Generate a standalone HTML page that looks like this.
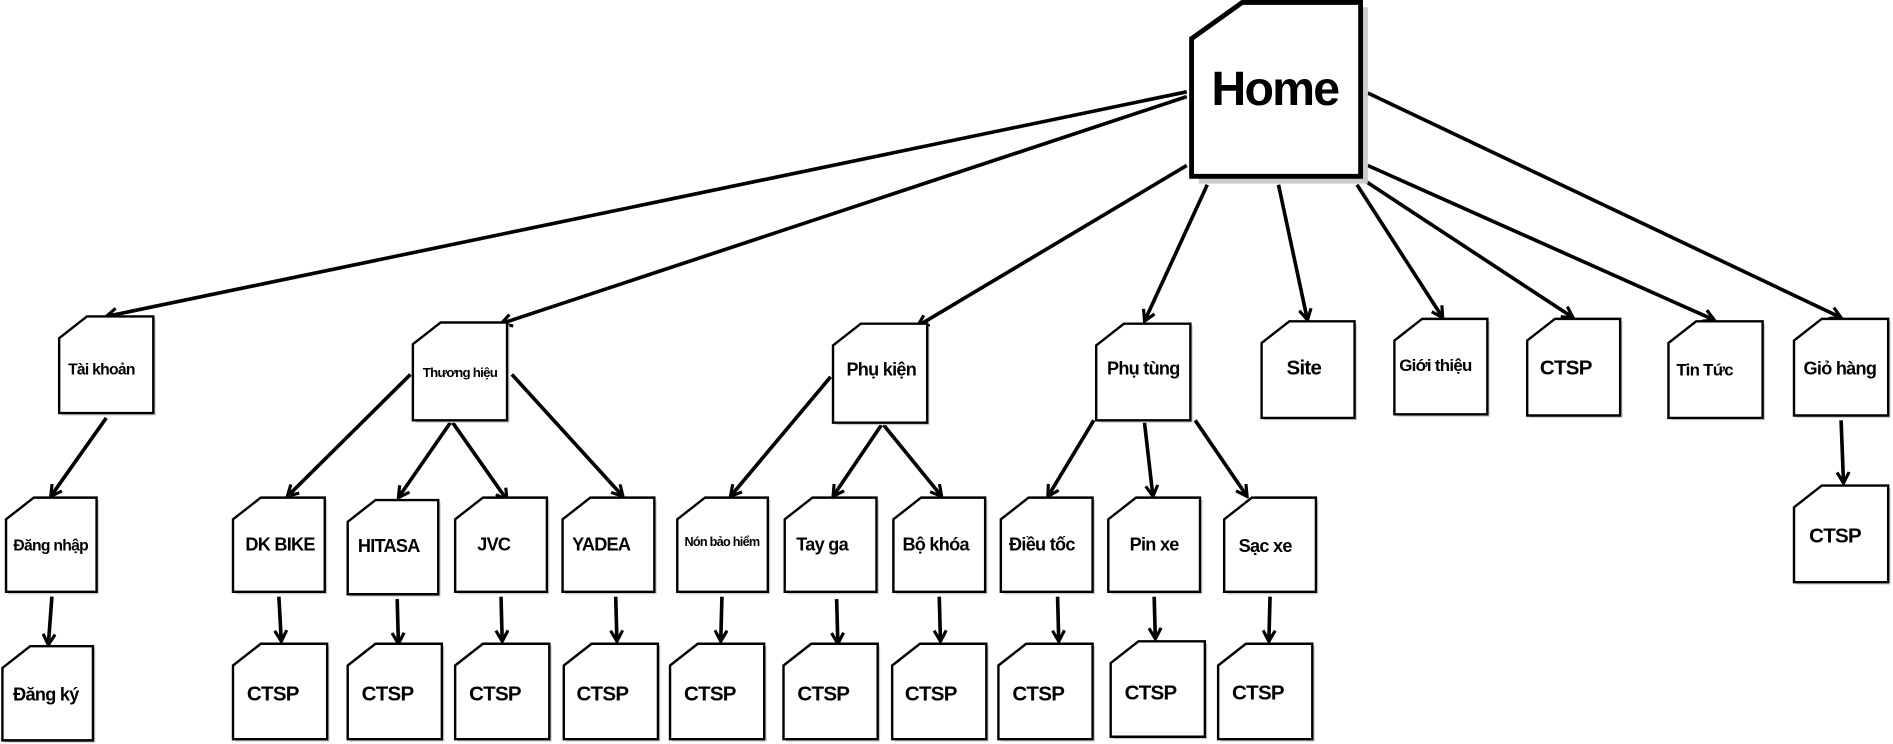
<!DOCTYPE html>
<html><head><meta charset="utf-8"><style>
html,body{margin:0;padding:0;background:#fff;}
svg{display:block;}
text{font-family:"Liberation Sans","DejaVu Sans",sans-serif;font-weight:bold;fill:#000;text-anchor:middle;letter-spacing:-0.6px;}
</style></head><body>
<svg width="1893" height="744" viewBox="0 0 1568 616" preserveAspectRatio="none" xmlns="http://www.w3.org/2000/svg">
<defs>
<marker id="a" markerWidth="12" markerHeight="12" refX="10" refY="6" orient="auto" markerUnits="userSpaceOnUse">
<polyline points="1,1 10,6 1,11" fill="none" stroke="#000" stroke-width="2.6"/>
</marker>
</defs>
<g stroke="#000" stroke-width="3" fill="none" marker-end="url(#a)">
<line x1="983" y1="76" x2="88" y2="262"/>
<line x1="983" y1="80" x2="415" y2="268"/>
<line x1="983" y1="137" x2="760" y2="270"/>
<line x1="1000" y1="153" x2="948" y2="266"/>
<line x1="1059" y1="153" x2="1083" y2="265"/>
<line x1="1124" y1="153" x2="1195" y2="263"/>
<line x1="1131" y1="150" x2="1303" y2="263"/>
<line x1="1133" y1="137" x2="1420" y2="265"/>
<line x1="1133" y1="77" x2="1525" y2="263"/>
<line x1="88" y1="346" x2="42" y2="411"/>
<line x1="43" y1="494" x2="40" y2="534"/>
<line x1="340" y1="310" x2="238" y2="411"/>
<line x1="373" y1="350" x2="330" y2="412"/>
<line x1="375" y1="350" x2="420" y2="414"/>
<line x1="424" y1="310" x2="516" y2="411"/>
<line x1="688" y1="312" x2="605" y2="411"/>
<line x1="730" y1="352" x2="690" y2="411"/>
<line x1="732" y1="352" x2="780" y2="411"/>
<line x1="906" y1="348" x2="868" y2="411"/>
<line x1="948" y1="350" x2="955" y2="411"/>
<line x1="990" y1="348" x2="1033" y2="411"/>
<line x1="231" y1="494" x2="233" y2="531"/>
<line x1="329" y1="496" x2="330" y2="533"/>
<line x1="415" y1="494" x2="416" y2="531"/>
<line x1="510" y1="494" x2="511" y2="531"/>
<line x1="598" y1="494" x2="597" y2="531"/>
<line x1="693" y1="496" x2="694" y2="533"/>
<line x1="778" y1="494" x2="779" y2="531"/>
<line x1="876" y1="494" x2="877" y2="531"/>
<line x1="956" y1="494" x2="957" y2="529"/>
<line x1="1052" y1="494" x2="1051" y2="531"/>
<line x1="1525" y1="348" x2="1527" y2="400"/>
</g>
<path d="M989,34 L1032,2 L1129,2 L1129,148 L989,148 Z" fill="#ccc" transform="translate(4,4)"/>
<path d="M987,32 L1029,2 L1127,2 L1127,146 L987,146 Z" fill="#fff" stroke="#000" stroke-width="4"/>
<text x="1056" y="87" font-size="40" style="letter-spacing:-1.5px">Home</text>
<g font-size="14">
<path d="M51,282 L74,264 L129,264 L129,344 L51,344 Z" fill="#ccc"/><path d="M49,280 L72,262 L127,262 L127,342 L49,342 Z" fill="#fff" stroke="#000" stroke-width="2"/><text x="84" y="310" font-size="13">Tài khoản</text>
<path d="M7,432 L30,414 L82,414 L82,492 L7,492 Z" fill="#ccc"/><path d="M5,430 L28,412 L80,412 L80,490 L5,490 Z" fill="#fff" stroke="#000" stroke-width="2"/><text x="42" y="456" font-size="13">Đăng nhập</text>
<path d="M4,555 L27,537 L79,537 L79,615 L4,615 Z" fill="#ccc"/><path d="M2,553 L25,535 L77,535 L77,613 L2,613 Z" fill="#fff" stroke="#000" stroke-width="2"/><text x="38" y="580" font-size="15">Đăng ký</text>
<path d="M344,287 L367,269 L422,269 L422,350 L344,350 Z" fill="#ccc"/><path d="M342,285 L365,267 L420,267 L420,348 L342,348 Z" fill="#fff" stroke="#000" stroke-width="2"/><text x="381" y="312" font-size="11">Thương hiệu</text>
<path d="M195,432 L218,414 L271,414 L271,492 L195,492 Z" fill="#ccc"/><path d="M193,430 L216,412 L269,412 L269,490 L193,490 Z" fill="#fff" stroke="#000" stroke-width="2"/><text x="232" y="456" font-size="15">DK BIKE</text>
<path d="M290,434 L313,416 L365,416 L365,494 L290,494 Z" fill="#ccc"/><path d="M288,432 L311,414 L363,414 L363,492 L288,492 Z" fill="#fff" stroke="#000" stroke-width="2"/><text x="322" y="457" font-size="15">HITASA</text>
<path d="M379,432 L402,414 L455,414 L455,492 L379,492 Z" fill="#ccc"/><path d="M377,430 L400,412 L453,412 L453,490 L377,490 Z" fill="#fff" stroke="#000" stroke-width="2"/><text x="409" y="456" font-size="15">JVC</text>
<path d="M468,432 L491,414 L544,414 L544,492 L468,492 Z" fill="#ccc"/><path d="M466,430 L489,412 L542,412 L542,490 L466,490 Z" fill="#fff" stroke="#000" stroke-width="2"/><text x="498" y="456" font-size="15">YADEA</text>
<path d="M692,288 L715,270 L770,270 L770,352 L692,352 Z" fill="#ccc"/><path d="M690,286 L713,268 L768,268 L768,350 L690,350 Z" fill="#fff" stroke="#000" stroke-width="2"/><text x="730" y="311" font-size="15">Phụ kiện</text>
<path d="M563,432 L586,414 L638,414 L638,492 L563,492 Z" fill="#ccc"/><path d="M561,430 L584,412 L636,412 L636,490 L561,490 Z" fill="#fff" stroke="#000" stroke-width="2"/><text x="598" y="452" font-size="10.5">Nón bảo hiểm</text>
<path d="M652,432 L675,414 L728,414 L728,492 L652,492 Z" fill="#ccc"/><path d="M650,430 L673,412 L726,412 L726,490 L650,490 Z" fill="#fff" stroke="#000" stroke-width="2"/><text x="681" y="456" font-size="15">Tay ga</text>
<path d="M742,432 L765,414 L818,414 L818,492 L742,492 Z" fill="#ccc"/><path d="M740,430 L763,412 L816,412 L816,490 L740,490 Z" fill="#fff" stroke="#000" stroke-width="2"/><text x="775" y="456" font-size="15">Bộ khóa</text>
<path d="M910,288 L933,270 L988,270 L988,350 L910,350 Z" fill="#ccc"/><path d="M908,286 L931,268 L986,268 L986,348 L908,348 Z" fill="#fff" stroke="#000" stroke-width="2"/><text x="947" y="310" font-size="15">Phụ tùng</text>
<path d="M831,432 L854,414 L907,414 L907,492 L831,492 Z" fill="#ccc"/><path d="M829,430 L852,412 L905,412 L905,490 L829,490 Z" fill="#fff" stroke="#000" stroke-width="2"/><text x="863" y="456" font-size="15">Điều tốc</text>
<path d="M920,432 L943,414 L996,414 L996,492 L920,492 Z" fill="#ccc"/><path d="M918,430 L941,412 L994,412 L994,490 L918,490 Z" fill="#fff" stroke="#000" stroke-width="2"/><text x="956" y="456" font-size="15">Pin xe</text>
<path d="M1016,432 L1039,414 L1092,414 L1092,492 L1016,492 Z" fill="#ccc"/><path d="M1014,430 L1037,412 L1090,412 L1090,490 L1014,490 Z" fill="#fff" stroke="#000" stroke-width="2"/><text x="1048" y="457" font-size="15">Sạc xe</text>
<path d="M1047,286 L1070,268 L1124,268 L1124,348 L1047,348 Z" fill="#ccc"/><path d="M1045,284 L1068,266 L1122,266 L1122,346 L1045,346 Z" fill="#fff" stroke="#000" stroke-width="2"/><text x="1080" y="310" font-size="17">Site</text>
<path d="M1157,284 L1180,266 L1234,266 L1234,345 L1157,345 Z" fill="#ccc"/><path d="M1155,282 L1178,264 L1232,264 L1232,343 L1155,343 Z" fill="#fff" stroke="#000" stroke-width="2"/><text x="1189" y="307" font-size="14">Giới thiệu</text>
<path d="M1267,284 L1290,266 L1344,266 L1344,346 L1267,346 Z" fill="#ccc"/><path d="M1265,282 L1288,264 L1342,264 L1342,344 L1265,344 Z" fill="#fff" stroke="#000" stroke-width="2"/><text x="1297" y="310" font-size="17">CTSP</text>
<path d="M1384,286 L1407,268 L1462,268 L1462,348 L1384,348 Z" fill="#ccc"/><path d="M1382,284 L1405,266 L1460,266 L1460,346 L1382,346 Z" fill="#fff" stroke="#000" stroke-width="2"/><text x="1412" y="311" font-size="14">Tin Tức</text>
<path d="M1488,284 L1511,266 L1566,266 L1566,346 L1488,346 Z" fill="#ccc"/><path d="M1486,282 L1509,264 L1564,264 L1564,344 L1486,344 Z" fill="#fff" stroke="#000" stroke-width="2"/><text x="1524" y="310" font-size="15">Giỏ hàng</text>
<path d="M1488,422 L1511,404 L1566,404 L1566,484 L1488,484 Z" fill="#ccc"/><path d="M1486,420 L1509,402 L1564,402 L1564,482 L1486,482 Z" fill="#fff" stroke="#000" stroke-width="2"/><text x="1520" y="449" font-size="17">CTSP</text>
<path d="M195,553 L218,535 L273,535 L273,614 L195,614 Z" fill="#ccc"/><path d="M193,551 L216,533 L271,533 L271,612 L193,612 Z" fill="#fff" stroke="#000" stroke-width="2"/><text x="226" y="580" font-size="17">CTSP</text>
<path d="M290,553 L313,535 L368,535 L368,614 L290,614 Z" fill="#ccc"/><path d="M288,551 L311,533 L366,533 L366,612 L288,612 Z" fill="#fff" stroke="#000" stroke-width="2"/><text x="321" y="580" font-size="17">CTSP</text>
<path d="M379,553 L402,535 L457,535 L457,614 L379,614 Z" fill="#ccc"/><path d="M377,551 L400,533 L455,533 L455,612 L377,612 Z" fill="#fff" stroke="#000" stroke-width="2"/><text x="410" y="580" font-size="17">CTSP</text>
<path d="M469,553 L492,535 L547,535 L547,614 L469,614 Z" fill="#ccc"/><path d="M467,551 L490,533 L545,533 L545,612 L467,612 Z" fill="#fff" stroke="#000" stroke-width="2"/><text x="499" y="580" font-size="17">CTSP</text>
<path d="M557,553 L580,535 L635,535 L635,614 L557,614 Z" fill="#ccc"/><path d="M555,551 L578,533 L633,533 L633,612 L555,612 Z" fill="#fff" stroke="#000" stroke-width="2"/><text x="588" y="580" font-size="17">CTSP</text>
<path d="M651,553 L674,535 L729,535 L729,614 L651,614 Z" fill="#ccc"/><path d="M649,551 L672,533 L727,533 L727,612 L649,612 Z" fill="#fff" stroke="#000" stroke-width="2"/><text x="682" y="580" font-size="17">CTSP</text>
<path d="M741,553 L764,535 L819,535 L819,614 L741,614 Z" fill="#ccc"/><path d="M739,551 L762,533 L817,533 L817,612 L739,612 Z" fill="#fff" stroke="#000" stroke-width="2"/><text x="771" y="580" font-size="17">CTSP</text>
<path d="M829,553 L852,535 L907,535 L907,614 L829,614 Z" fill="#ccc"/><path d="M827,551 L850,533 L905,533 L905,612 L827,612 Z" fill="#fff" stroke="#000" stroke-width="2"/><text x="860" y="580" font-size="17">CTSP</text>
<path d="M922,551 L945,533 L1000,533 L1000,612 L922,612 Z" fill="#ccc"/><path d="M920,549 L943,531 L998,531 L998,610 L920,610 Z" fill="#fff" stroke="#000" stroke-width="2"/><text x="953" y="579" font-size="17">CTSP</text>
<path d="M1011,553 L1034,535 L1089,535 L1089,614 L1011,614 Z" fill="#ccc"/><path d="M1009,551 L1032,533 L1087,533 L1087,612 L1009,612 Z" fill="#fff" stroke="#000" stroke-width="2"/><text x="1042" y="579" font-size="17">CTSP</text>
</g>
</svg>
</body></html>
